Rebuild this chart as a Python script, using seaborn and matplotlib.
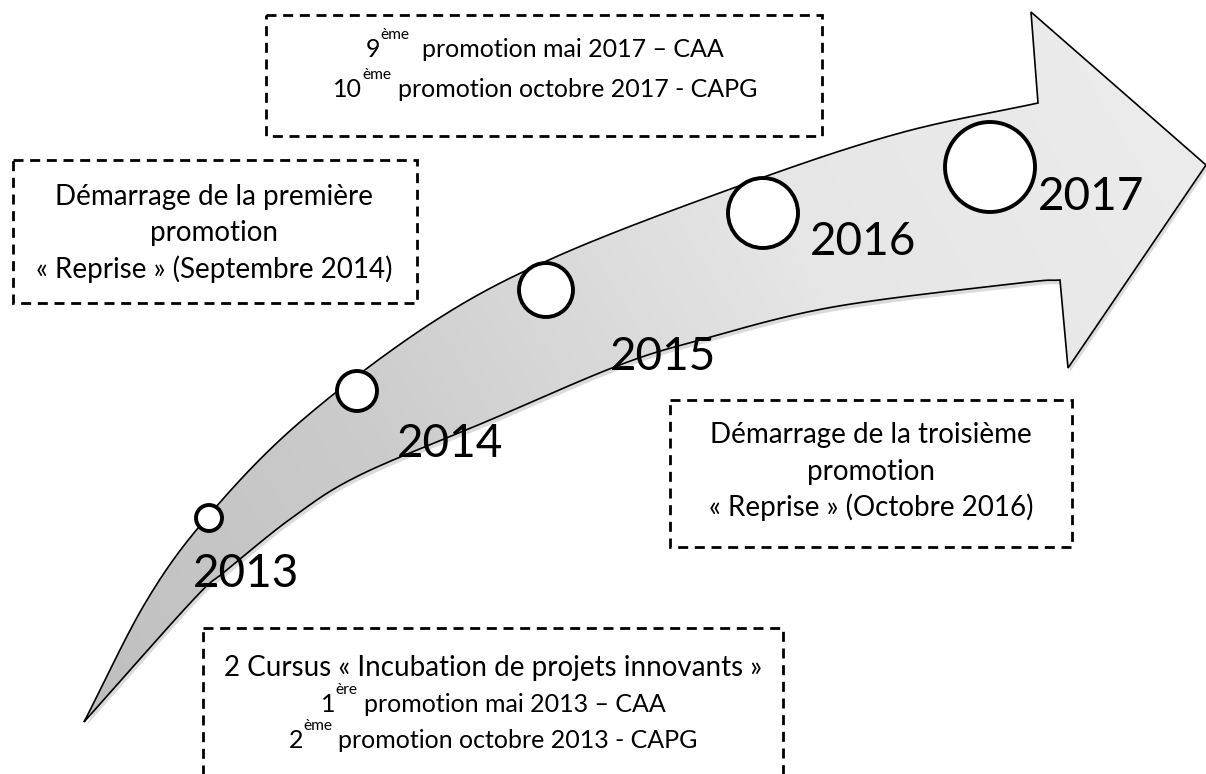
import matplotlib
matplotlib.use('Agg')
import numpy as np
import seaborn as sns
from matplotlib import pyplot as plt
from matplotlib.path import Path
from matplotlib.patches import PathPatch, Rectangle
from matplotlib.colors import LinearSegmentedColormap

# %% data
years = [2013, 2014, 2015, 2016, 2017]
circle_radius = [13, 20, 27, 35, 45]          # px, grows with the years

box_top = [[('9', 0), ('ème', 1), ('  promotion mai 2017 – CAA', 0)],
           [('10', 0), ('ème', 1), (' promotion octobre 2017 - CAPG', 0)]]
box_left = [[('Démarrage de la première', 0)],
            [('promotion', 0)],
            [('« Reprise » (Septembre 2014)', 0)]]
box_right = [[('Démarrage de la troisième', 0)],
             [('promotion', 0)],
             [('« Reprise » (Octobre 2016)', 0)]]
box_bottom = [[('2 Cursus « Incubation de projets innovants »', 0)],
              [('1', 0), ('ère', 1), (' promotion mai 2013 – CAA', 0)],
              [('2', 0), ('ème', 1), (' promotion octobre 2013 - CAPG', 0)]]

# %% layout (pixel space, y down)
W, H = 1206, 774
FONT = 'Lato'
BOX_FS = 20
SUP_LINE_FS = 18
circle_xy = [(209, 518), (357, 391), (546, 290), (763, 213), (990, 167)]
year_xy = [(193, 587), (397, 457), (610, 370), (810, 255), (1038, 210)]

upper = [(84, 722), (147, 600), (209, 515), (300, 422), (433, 322),
         (560, 255), (750, 182), (900, 133), (1038, 103)]
lower = [(84, 722), (193, 600), (227, 570), (293, 517), (360, 475),
         (490, 420), (617, 366), (700, 340), (833, 307), (1020, 283),
         (1060, 280)]
head = [(1031, 12), (1206, 165), (1068, 368)]


def smooth(pts, n=25):
    p = np.asarray(pts, float)
    p = np.vstack([2 * p[0] - p[1], p, 2 * p[-1] - p[-2]])
    out = []
    t = np.linspace(0, 1, n, endpoint=False)[:, None]
    for i in range(1, len(p) - 2):
        p0, p1, p2, p3 = p[i - 1], p[i], p[i + 1], p[i + 2]
        out.append(0.5 * (2 * p1 + (-p0 + p2) * t
                          + (2 * p0 - 5 * p1 + 4 * p2 - p3) * t ** 2
                          + (-p0 + 3 * p1 - 3 * p2 + p3) * t ** 3))
    out.append(p[-2][None])
    return np.vstack(out)


sns.set_theme(style='white')
plt.rcParams['font.family'] = [FONT, 'DejaVu Sans']
plt.rcParams['text.color'] = 'black'

fig = plt.figure(figsize=(W / 100, H / 100), dpi=100)
ax = fig.add_axes([0, 0, 1, 1])

# %% arrow
verts = np.vstack([smooth(upper), np.array(head, float), smooth(lower)[::-1]])
arrow_path = Path(verts, closed=False)

shadow = PathPatch(Path(verts + [2, 4]), facecolor='#9a9a9a', edgecolor='none',
                   alpha=0.35, zorder=1)
ax.add_patch(shadow)

outline = PathPatch(arrow_path, facecolor='none', edgecolor='black', lw=1.2,
                    zorder=3, joinstyle='miter')
ax.add_patch(outline)

gx, gy = np.meshgrid(np.linspace(0, W, 300), np.linspace(0, H, 200))
grad = (gx - 0.6 * gy)
grad = (grad - grad.min()) / (grad.max() - grad.min())
cmap = LinearSegmentedColormap.from_list('g', ['#bcbcbc', '#cbcbcb', '#e6e6e6', '#ededed'])
img = ax.imshow(grad, extent=[0, W, H, 0], cmap=cmap, zorder=2, aspect='auto',
                interpolation='bilinear')
img.set_clip_path(outline)

# %% milestone circles
px2pt = 72 / 100
sizes = {y: (2 * r * px2pt) ** 2 for y, r in zip(years, circle_radius)}
sns.scatterplot(x=[c[0] for c in circle_xy], y=[c[1] for c in circle_xy],
                size=years, sizes=sizes, color='white', edgecolor='black',
                linewidth=2.8, legend=False, ax=ax, zorder=4)
ax.set_xlim(0, W)
ax.set_ylim(H, 0)
ax.axis('off')

for yr, (x, y) in zip(years, year_xy):
    ax.text(x, y, str(yr), fontsize=33, color='black', ha='left',
            va='baseline', zorder=5)

# %% dashed boxes with text
r = fig.canvas.get_renderer()


def text_w(s, size):
    t = ax.text(0, 0, s, fontsize=size)
    w = t.get_window_extent(r).width
    t.remove()
    return w


def rich_line(xc, y, parts):
    size = SUP_LINE_FS if any(sup for _, sup in parts) else BOX_FS
    sw = text_w('a a', size) - text_w('aa', size)
    items = []
    for s, sup in parts:
        fs = size * 0.62 if sup else size
        core = s.strip(' ')
        lead = len(s) - len(s.lstrip(' '))
        trail = len(s) - len(s.rstrip(' '))
        items.append((core, fs, sup, lead * sw, text_w(core, fs), trail * sw))
    total = sum(a + b + c for _, _, _, a, b, c in items)
    x = xc - total / 2
    for core, fs, sup, lead, w, trail in items:
        x += lead
        yy = y - size * 1.389 * 0.72 if sup else y
        ax.text(x, yy, core, fontsize=fs, color='black', ha='left',
                va='baseline', zorder=6)
        x += w + trail


def dashed_box(x0, y0, x1, y1):
    ax.add_patch(Rectangle((x0, y0), x1 - x0, y1 - y0, fill=False,
                           edgecolor='black', lw=2.0,
                           linestyle=(0, (3.6, 2.4)), zorder=6))


boxes = [((266, 15, 822, 136), 545, [57, 97], box_top),
         ((13, 160, 417, 303), 214, [205, 241, 278], box_left),
         ((670, 400, 1072, 547), 871, [443, 480, 516], box_right),
         ((203, 628, 783, 800), 493, [676, 712, 748], box_bottom)]

for rect, xc, ys, lines in boxes:
    dashed_box(*rect)
    for yb, parts in zip(ys, lines):
        rich_line(xc, yb, parts)

fig.savefig('out.png', dpi=100)
